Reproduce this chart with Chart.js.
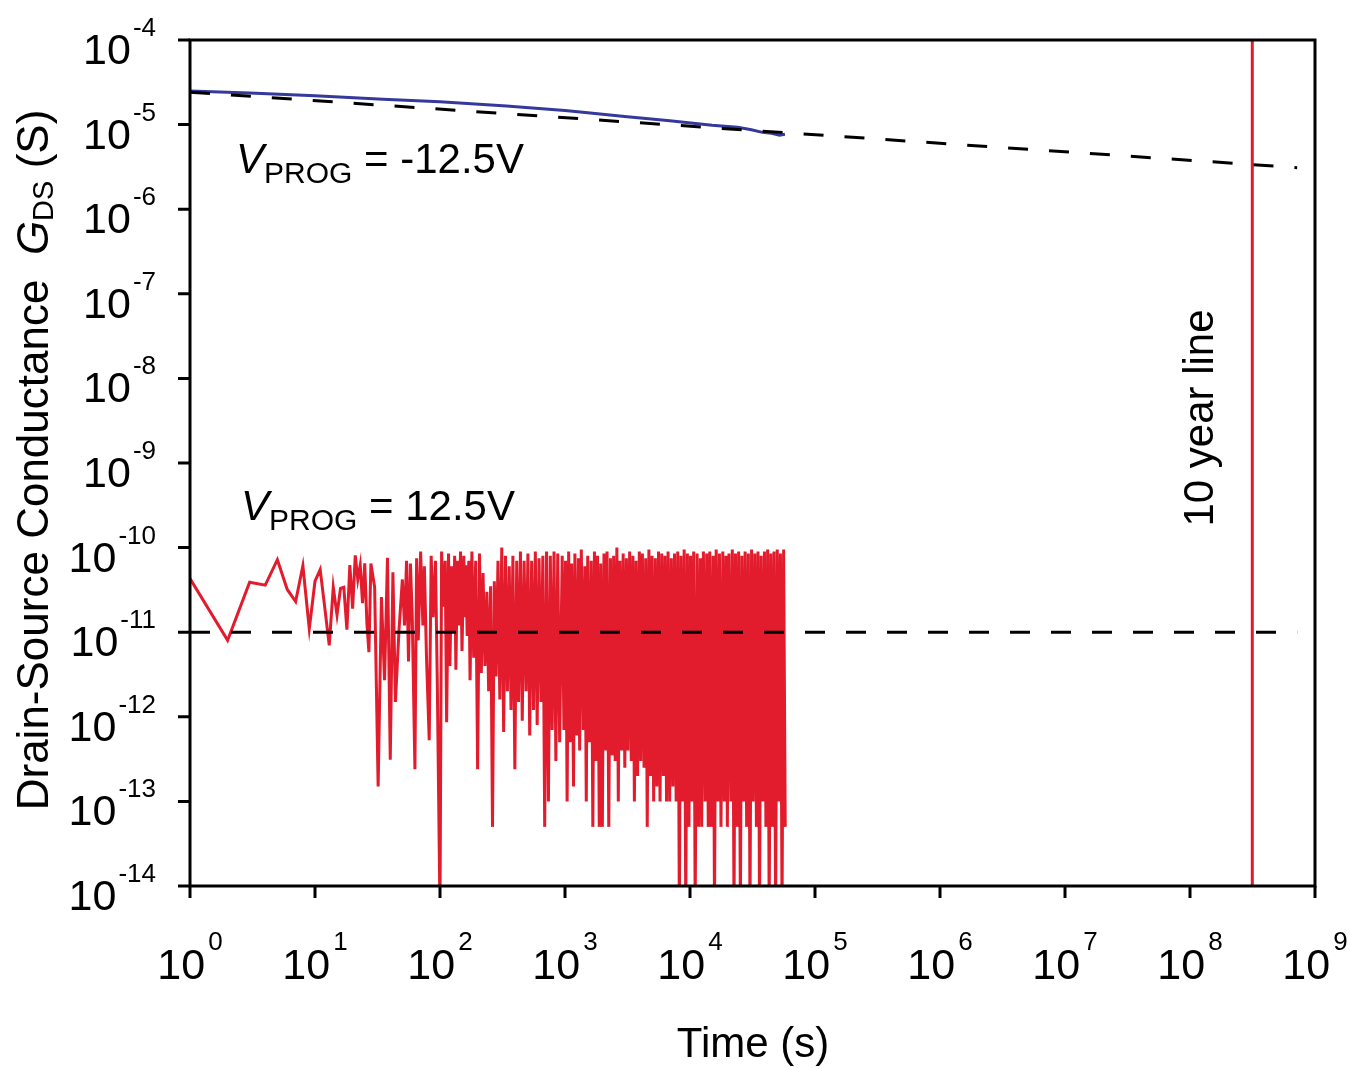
<!DOCTYPE html>
<html>
<head>
<meta charset="utf-8">
<title>Drain-source conductance retention</title>
<script src="https://cdn.jsdelivr.net/npm/chart.js"></script>
<style>
  html, body { margin: 0; padding: 0; background: #fff; }
  #wrap { width: 1350px; height: 1068px; position: relative; }
</style>
</head>
<body>
<div id="wrap"><canvas id="retentionChart"></canvas></div>
<script>
// Tick labels are 10^n, n taken from these
const xTickExponents = [0, 1, 2, 3, 4, 5, 6, 7, 8, 9];
const yTickExponents = [-14, -13, -12, -11, -10, -9, -8, -7, -6, -5, -4];

// V_PROG = -12.5V (blue), [time s, G_DS S]
const negProgData = [
  [1, 2.5e-5], [3, 2.36e-5], [10, 2.2e-5], [35, 2.0e-5], [100, 1.86e-5], [340, 1.66e-5],
  [1000, 1.47e-5], [1520, 1.38e-5], [3000, 1.25e-5], [6900, 1.11e-5], [15000, 9.8e-6],
  [24000, 9.3e-6], [31000, 8.7e-6], [38000, 8.1e-6], [45000, 7.9e-6], [52000, 7.5e-6], [57500, 7.7e-6]
];

// extrapolation of the blue curve (dashed)
const negFitLine = [[1, 2.42e-5], [7.2e8, 3.1e-6]];

// V_PROG = 12.5V (red), [time s, G_DS S]
const posProgData = [
  [1, 4.3e-11], [2, 8e-12], [3, 3.9e-11], [4, 3.6e-11], [5, 7.2e-11], [6, 3.2e-11],
  [7, 2.3e-11], [8, 6.1e-11], [9, 1.1e-11], [10, 4e-11], [11, 5.5e-11], [12, 1.9e-11],
  [13, 7e-12], [14, 3.4e-11], [15, 1.6e-11], [16, 3.3e-11], [17, 3.4e-11], [18, 1.07e-11],
  [19, 6.2e-11], [20, 1.9e-11], [21, 8.1e-11], [22, 4.2e-11], [23, 6.2e-11], [24, 2.2e-11],
  [25, 6.5e-11], [26, 1.3e-11], [27, 5.8e-12], [28, 6.5e-11], [30, 3.4e-11], [32, 1.5e-13],
  [34, 2.6e-11], [36, 2.7e-12], [38, 7.6e-11], [40, 3.1e-13], [42, 5.1e-11], [44, 1.5e-12],
  [47, 1.07e-11], [50, 4.2e-11], [52, 1.2e-11], [54, 7e-11], [56, 4.5e-12], [58, 6.5e-11],
  [60, 1.5e-11], [63, 2.4e-13], [65, 7.5e-11], [67, 8e-12], [70, 9e-11], [73, 1.2e-11],
  [75, 6e-11], [78, 5e-12], [82, 5.3e-13], [85, 8e-11], [88, 1.5e-11], [92, 7e-11],
  [95, 3e-12], [100, 5e-15], [103, 9e-11], [106, 2e-11], [110, 7e-11], [113, 8.6e-13],
  [117, 8.5e-11], [120, 4e-12], [124, 6e-11], [128, 1e-11], [131, 8e-11], [134, 3.6e-12],
  [138, 7e-11], [142, 1.2e-11], [146, 9e-11], [150, 6e-12], [155, 8e-11], [158, 1.5e-11],
  [161, 6.2e-11], [165, 9e-12], [170, 7e-11],
  // getting dense
  [174, 2.7e-12], [180, 9e-11], [186, 5e-12], [193, 7e-11], [200, 2.4e-13], [207, 8.5e-11],
  [214, 3.3e-12], [221, 5e-11], [229, 4e-12], [237, 3e-11], [245, 2e-12], [254, 3.5e-11],
  [263, 5e-14], [272, 4e-11], [281, 3e-12], [291, 7e-11], [301, 1.6e-12], [312, 1e-10],
  [323, 6.6e-13], [334, 8e-11], [346, 2e-12], [358, 6e-11], [370, 1.2e-12], [383, 8e-11],
  [397, 2.4e-13], [411, 7e-11], [425, 1.5e-12], [440, 9e-11], [455, 9e-13], [471, 7e-11],
  [488, 2e-12], [505, 8.5e-11], [522, 6e-13], [541, 7e-11], [560, 1.2e-12], [579, 9e-11],
  [599, 8e-13], [620, 7.5e-11], [642, 1.5e-12], [665, 8e-11], [688, 5e-14], [712, 9e-11],
  [737, 1e-13], [763, 8e-11], [789, 7e-13], [817, 9e-11], [845, 3e-13], [875, 8.5e-11], [906, 5e-13],
  // solid band
  [950, 8e-11], [980, 7e-13], [1010, 7e-11], [1040, 1e-13], [1070, 9e-11], [1100, 5e-13],
  [1130, 6.5e-11], [1170, 1.5e-13], [1200, 8.5e-11], [1240, 6e-13], [1280, 7.5e-11], [1310, 4e-13],
  [1350, 9.5e-11], [1400, 7e-13], [1440, 6e-11], [1480, 1e-13], [1520, 8e-11], [1570, 5e-13],
  [1620, 7e-11], [1670, 5e-14], [1720, 9e-11], [1770, 3e-13], [1820, 8e-11], [1880, 5e-14],
  [1930, 6.5e-11], [1990, 5e-14], [2050, 8.5e-11], [2110, 4e-13], [2170, 9e-11], [2240, 5e-14],
  [2310, 7.5e-11], [2380, 3.5e-13], [2450, 8e-11], [2520, 3e-13], [2600, 1e-10], [2670, 1e-13],
  [2750, 7e-11], [2840, 4e-13], [2920, 8.5e-11], [3010, 2.5e-13], [3100, 7.5e-11], [3190, 4e-13],
  [3290, 9e-11], [3390, 3e-13], [3490, 8e-11], [3590, 1e-13], [3700, 7e-11], [3810, 2e-13],
  [3930, 9e-11], [4040, 3e-13], [4160, 8.5e-11], [4290, 2.5e-13], [4420, 7.5e-11], [4550, 5e-14],
  [4690, 9.5e-11], [4830, 2e-13], [4970, 8e-11], [5120, 1e-13], [5280, 7.5e-11], [5430, 1.5e-13],
  [5600, 9e-11], [5760, 1e-13], [5940, 8.5e-11], [6120, 2e-13], [6300, 8e-11], [6490, 1e-13],
  [6680, 9e-11], [6880, 1e-13], [7090, 7.5e-11], [7300, 1.5e-13], [7520, 8.5e-11], [7750, 1e-13],
  [7980, 9e-11], [8220, 5e-15], [8460, 8e-11], [8720, 1e-13], [8980, 9.5e-11], [9250, 5e-15],
  [9530, 8.5e-11], [9810, 5e-14], [10100, 8e-11], [10400, 1e-13], [10700, 9e-11], [11000, 5e-15],
  [11400, 8.5e-11], [11700, 5e-14], [12100, 7.5e-11], [12400, 5e-14], [12800, 9e-11], [13200, 1e-13],
  [13600, 8.5e-11], [14000, 5e-14], [14400, 9e-11], [14800, 5e-14], [15300, 8e-11], [15700, 5e-15],
  [16200, 9.5e-11], [16700, 1e-13], [17200, 8.5e-11], [17700, 5e-14], [18300, 9e-11], [18800, 1e-13],
  [19400, 8e-11], [19900, 5e-14], [20500, 8.5e-11], [21200, 1e-13], [21800, 9.5e-11], [22500, 5e-15],
  [23100, 8.5e-11], [23800, 5e-14], [24500, 9e-11], [25300, 5e-15], [26000, 8e-11], [26800, 1e-13],
  [27600, 9e-11], [28400, 5e-14], [29300, 8.5e-11], [30200, 5e-15], [31100, 9.5e-11], [32000, 1e-13],
  [33000, 8.5e-11], [34000, 5e-14], [35000, 9e-11], [36000, 5e-15], [37100, 8e-11], [38200, 1e-13],
  [39400, 9e-11], [40500, 5e-14], [41800, 9.5e-11], [43000, 5e-15], [44300, 8.5e-11], [45600, 5e-14],
  [47000, 9e-11], [48400, 5e-15], [49900, 9.5e-11], [51400, 1e-13], [52900, 8.5e-11], [54500, 5e-15],
  [56100, 9.5e-11], [57800, 5e-14]
];

// 1e-11 S reference level (dashed)
const posFloorLine = [[1, 1e-11], [7.2e8, 1e-11]];

// 10 years = 3.15e8 s
const tenYearLine = [[3.15e8, 1e-14], [3.15e8, 1e-4]];

const RED = '#e21b2d';
const BLUE = '#35399b';
const FONT = '"Liberation Sans", Arial, sans-serif';

const toPoints = arr => arr.map(([x, y]) => ({ x, y }));

// draw a row of text pieces (font / vertical shift) one after another
function drawRuns(ctx, runs, x, y) {
  let cx = x;
  runs.forEach(r => {
    ctx.font = r.font;
    ctx.fillText(r.text, cx, y + (r.dy || 0));
    cx += ctx.measureText(r.text).width;
  });
}

function runsWidth(ctx, runs) {
  let w = 0;
  runs.forEach(r => { ctx.font = r.font; w += ctx.measureText(r.text).width; });
  return w;
}

// frame, ticks, 10^n labels, titles and notes
const decorPlugin = {
  id: 'decor',
  afterDraw(chart) {
    const { ctx, chartArea: a } = chart;
    const xs = chart.scales.x, ys = chart.scales.y;
    ctx.save();

    // box + tick marks
    ctx.strokeStyle = '#000';
    ctx.lineWidth = 3;
    ctx.strokeRect(a.left, a.top, a.right - a.left, a.bottom - a.top);
    ctx.beginPath();
    xTickExponents.forEach(e => {
      const px = xs.getPixelForValue(Math.pow(10, e));
      ctx.moveTo(px, a.bottom);
      ctx.lineTo(px, a.bottom + 12);
    });
    yTickExponents.forEach(e => {
      const py = ys.getPixelForValue(Math.pow(10, e));
      ctx.moveTo(a.left - 12, py);
      ctx.lineTo(a.left, py);
    });
    ctx.stroke();

    ctx.fillStyle = '#000';
    ctx.textBaseline = 'alphabetic';
    ctx.textAlign = 'left';

    const baseFont = '43px ' + FONT;

    // x tick labels
    xTickExponents.forEach(e => {
      const px = xs.getPixelForValue(Math.pow(10, e));
      const expFont = '26px ' + FONT;
      ctx.font = baseFont;
      const wb = ctx.measureText('10').width;
      ctx.font = expFont;
      const we = ctx.measureText(String(e)).width;
      const left = px - (wb + 3 + we) / 2;
      ctx.font = baseFont;
      ctx.fillText('10', left, a.bottom + 93);
      ctx.font = expFont;
      ctx.fillText(String(e), left + wb + 3, a.bottom + 64);
    });

    // y tick labels, right aligned
    yTickExponents.forEach(e => {
      const py = ys.getPixelForValue(Math.pow(10, e));
      const expFont = '26px ' + FONT;
      ctx.font = expFont;
      const we = ctx.measureText(String(e)).width;
      ctx.font = baseFont;
      const wb = ctx.measureText('10').width;
      const right = a.left - 34;
      ctx.fillText('10', right - we - 2 - wb, py + 24);
      ctx.font = expFont;
      ctx.fillText(String(e), right - we, py - 4);
    });

    // x title
    ctx.font = '42px ' + FONT;
    ctx.textAlign = 'center';
    ctx.fillText('Time (s)', 753, 1057);
    ctx.textAlign = 'left';

    // y title (rotated)
    const yRuns = [
      { text: 'Drain-Source Conductance  ', font: '44px ' + FONT },
      { text: 'G', font: 'italic 44px ' + FONT },
      { text: 'DS', font: '29px ' + FONT, dy: 5 },
      { text: ' (S)', font: '44px ' + FONT }
    ];
    ctx.save();
    ctx.translate(48, 460);
    ctx.rotate(-Math.PI / 2);
    drawRuns(ctx, yRuns, -runsWidth(ctx, yRuns) / 2, 0);
    ctx.restore();

    // V_PROG notes
    drawRuns(ctx, [
      { text: 'V', font: 'italic 42px ' + FONT },
      { text: 'PROG', font: '30px ' + FONT, dy: 10 },
      { text: ' = -12.5V', font: '42px ' + FONT }
    ], 236, 173);
    drawRuns(ctx, [
      { text: 'V', font: 'italic 42px ' + FONT },
      { text: 'PROG', font: '30px ' + FONT, dy: 10 },
      { text: ' = 12.5V', font: '42px ' + FONT }
    ], 241, 520);

    // 10 year line label
    ctx.save();
    ctx.translate(1213, 418);
    ctx.rotate(-Math.PI / 2);
    ctx.font = '42px ' + FONT;
    ctx.textAlign = 'center';
    ctx.fillText('10 year line', 0, 0);
    ctx.restore();

    ctx.restore();
  }
};

document.addEventListener('DOMContentLoaded', () => {
  const ctx = document.getElementById('retentionChart').getContext('2d');
  new Chart(ctx, {
    type: 'line',
    data: {
      datasets: [
        { label: '1e-11 level', data: toPoints(posFloorLine), borderColor: '#000', borderWidth: 3, borderDash: [20, 21] },
        { label: 'fit', data: toPoints(negFitLine), borderColor: '#000', borderWidth: 3, borderDash: [20, 21] },
        { label: 'VPROG = -12.5V', data: toPoints(negProgData), borderColor: BLUE, borderWidth: 3 },
        { label: 'VPROG = 12.5V', data: toPoints(posProgData), borderColor: RED, borderWidth: 3 },
        { label: '10 year line', data: toPoints(tenYearLine), borderColor: RED, borderWidth: 3 }
      ]
    },
    options: {
      responsive: true,
      maintainAspectRatio: false,
      animation: false,
      layout: { padding: { left: 190, top: 40, right: 35, bottom: 182 } },
      elements: {
        point: { radius: 0, hoverRadius: 0 },
        line: { tension: 0, fill: false }
      },
      plugins: {
        legend: { display: false },
        tooltip: { enabled: false }
      },
      scales: {
        x: { type: 'logarithmic', min: 1, max: 1e9, display: false },
        y: { type: 'logarithmic', min: 1e-14, max: 1e-4, display: false }
      }
    },
    plugins: [decorPlugin]
  });
});
</script>
</body>
</html>
